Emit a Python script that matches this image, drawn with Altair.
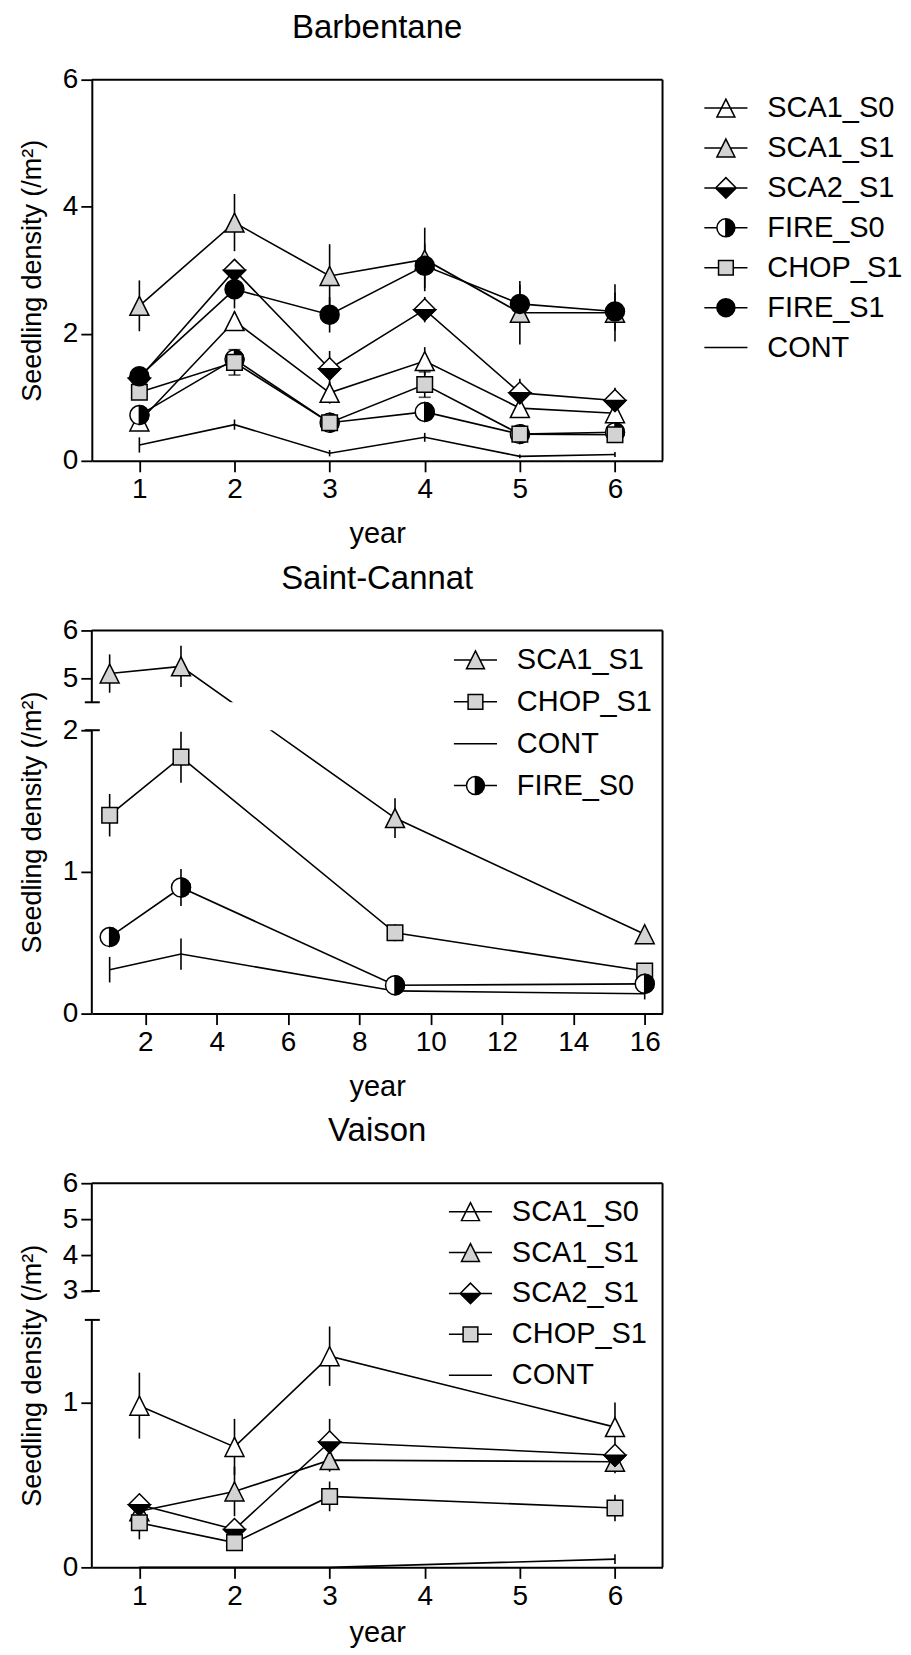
import altair as alt
import pandas as pd

FONT = "Liberation Sans"
GREY = "#d3d3d3"

# ---------------- data ----------------
# Barbentane
bar_years = [1, 2, 3, 4, 5, 6]
bar_sca1_s0 = [0.62, 2.20, 1.07, 1.57, 0.83, 0.75]
bar_sca1_s0_se = [0.08, 0.15, 0.17, 0.22, 0.10, 0.08]
bar_sca1_s1 = [2.44, 3.75, 2.91, 3.17, 2.33, 2.33]
bar_sca1_s1_se = [0.40, 0.45, 0.50, 0.50, 0.50, 0.45]
bar_sca2_s1 = [1.30, 3.00, 1.45, 2.38, 1.07, 0.95]
bar_sca2_s1_se = [0.10, 0.15, 0.28, 0.20, 0.22, 0.20]
bar_fire_s0 = [0.72, 1.60, 0.60, 0.77, 0.42, 0.45]
bar_fire_s0_se = [0.15, 0.10, 0.05, 0.10, 0.05, 0.05]
bar_chop_s1 = [1.08, 1.55, 0.60, 1.20, 0.42, 0.41]
bar_chop_s1_se = [0.10, 0.20, 0.10, 0.20, 0.08, 0.06]
bar_fire_s1 = [1.33, 2.70, 2.30, 3.07, 2.47, 2.35]
bar_fire_s1_se = [0.12, 0.30, 0.28, 0.35, 0.30, 0.30]
bar_cont = [0.25, 0.57, 0.12, 0.37, 0.07, 0.10]
bar_cont_se = [0.12, 0.08, 0.05, 0.07, 0.03, 0.04]

# Saint-Cannat
sc_years = [1, 3, 9, 16]
sc_sca1_s1 = [5.10, 5.25, 1.38, 0.56]
sc_sca1_s1_se = [0.40, 0.43, 0.14, 0.04]
sc_chop_s1 = [1.40, 1.81, 0.57, 0.30]
sc_chop_s1_se = [0.15, 0.18, 0.06, 0.03]
sc_cont = [0.31, 0.42, 0.16, 0.14]
sc_cont_se = [0.09, 0.11, 0.03, 0.04]
sc_fire_s0 = [0.54, 0.89, 0.20, 0.21]
sc_fire_s0_se = [0.06, 0.13, 0.03, 0.03]

# Vaison
va_years = [1, 2, 3, 6]
va_sca1_s0 = [0.98, 0.73, 1.28, 0.85]
va_sca1_s0_se = [0.20, 0.17, 0.18, 0.15]
va_sca1_s1 = [0.34, 0.46, 0.65, 0.64]
va_sca1_s1_se = [0.05, 0.15, 0.07, 0.07]
va_sca2_s1 = [0.38, 0.23, 0.76, 0.68]
va_sca2_s1_se = [0.05, 0.04, 0.14, 0.05]
va_chop_s1 = [0.27, 0.15, 0.43, 0.36]
va_chop_s1_se = [0.10, 0.03, 0.09, 0.08]
va_cont = [0.0, 0.0, 0.0, 0.05]
va_cont_se = [0.0, 0.0, 0.0, 0.03]

bar_order = ["SCA1_S0", "SCA1_S1", "SCA2_S1", "FIRE_S0", "CHOP_S1", "FIRE_S1", "CONT"]
sc_order = ["SCA1_S1", "CHOP_S1", "CONT", "FIRE_S0"]
va_order = ["SCA1_S0", "SCA1_S1", "SCA2_S1", "CHOP_S1", "CONT"]

# ---------------- styles ----------------
TRI = "M0,-1L1,1L-1,1Z"
CIRCLE = "M1,0A1,1 0 1,1 -1,0A1,1 0 1,1 1,0Z"
CIRCLE_R = "M0,-1A1,1 0 0,1 0,1Z"
SQUARE = "M-0.82,-0.82H0.82V0.82H-0.82Z"
DIAMOND = "M0,-1.15L1.15,0L0,1.15L-1.15,0Z"
DIAMOND_LOW = "M-1.15,0L1.15,0L0,1.15Z"

MARKERS = {
    "SCA1_S0": [(TRI, "white")],
    "SCA1_S1": [(TRI, GREY)],
    "SCA2_S1": [(DIAMOND, "white"), (DIAMOND_LOW, "black")],
    "FIRE_S0": [(CIRCLE, "white"), (CIRCLE_R, "black")],
    "CHOP_S1": [(SQUARE, GREY)],
    "FIRE_S1": [(CIRCLE, "black")],
    "CONT": [],
}

LEG_PATH = {
    "SCA1_S0": "M-2.4,0H2.4M0,-1L1,1L-1,1Z",
    "SCA1_S1": "M-2.4,0H-0.5M0.5,0H2.4M0,-1L1,1L-1,1Z",
    "SCA2_S1": "M-2.4,0H-1.15M1.15,0H2.4M-1.15,0L1.15,0L0,1.15ZM-1.15,0L0,-1.15L1.15,0L0,-1.15Z",
    "FIRE_S0": "M-2.4,0H-1M1,0H2.4M0,-1A1,1 0 0,1 0,1ZM0,-1A1,1 0 0,0 0,1A1,1 0 0,1 0,-1Z",
    "CHOP_S1": "M-2.4,0H-0.82M0.82,0H2.4M-0.82,-0.82H0.82V0.82H-0.82Z",
    "FIRE_S1": "M-2.4,0H2.4M1,0A1,1 0 1,1 -1,0A1,1 0 1,1 1,0Z",
    "CONT": "M-2.4,0H2.4",
}
LEG_FILL = {
    "SCA1_S0": "white", "SCA1_S1": GREY, "SCA2_S1": "black", "FIRE_S0": "black",
    "CHOP_S1": GREY, "FIRE_S1": "black", "CONT": "transparent",
}

W = 572
LW = 1.6


def long_df(years, series):
    rows = []
    for name, (m, se) in series.items():
        for x, v, e in zip(years, m, se):
            rows.append(dict(series=name, year=x, mean=v, lo=v - e, hi=v + e))
    return pd.DataFrame(rows)


def panel(title, df, order, x_domain, x_ticks, y_domain, y_range, y_ticks,
          height, leg_x, leg_y, row_pad, xpad, breaks=None, caps=None):
    xs = alt.Scale(domain=x_domain, nice=False, zero=False)
    if y_range is None:
        ys = alt.Scale(domain=y_domain, nice=False, zero=False)
    else:
        ys = alt.Scale(domain=y_domain, range=y_range, nice=False, zero=False)
    xaxis = alt.Axis(values=x_ticks, title="year", format="d", labelPadding=4,
                     titlePadding=xpad)
    yaxis = alt.Axis(values=y_ticks, title="Seedling density (/m²)", format="d",
                     domain=(breaks is None), labelPadding=3, titlePadding=16)

    def X(f):
        return alt.X(f, type="quantitative", scale=xs, axis=xaxis)

    def Y(f):
        return alt.Y(f, type="quantitative", scale=ys, axis=yaxis)

    base = alt.Chart(df)
    layers = []
    layers.append(base.mark_rule(color="black", strokeWidth=LW).encode(
        x=X("year"), y=Y("lo"), y2="hi"))
    if caps:
        cdf = base.transform_filter(alt.datum.series == caps)
        for f in ("lo", "hi"):
            layers.append(cdf.mark_tick(orient="horizontal", color="black", size=12,
                                        thickness=LW).encode(x=X("year"), y=Y(f)))
    layers.append(base.mark_line(color="black", strokeWidth=LW).encode(
        x=X("year"), y=Y("mean"), detail="series:N"))
    if breaks is not None:
        mask = pd.DataFrame({"b0": [breaks[0]], "b1": [breaks[1]]})
        layers.append(alt.Chart(mask).mark_rect(color="white").encode(
            x=alt.value(0), x2=alt.value(W), y=Y("b0"), y2="b1"))
    for s in order:
        for shape, fill in MARKERS[s]:
            layers.append(base.transform_filter(alt.datum.series == s).mark_point(
                shape=shape, size=361, filled=True, fill=fill, stroke="black",
                strokeWidth=1.5, opacity=1).encode(x=X("year"), y=Y("mean")))
    frame = pd.DataFrame({"x0": [x_domain[0]], "x1": [x_domain[-1]],
                          "y0": [y_domain[0]], "y1": [y_domain[-1]]})
    fch = alt.Chart(frame)
    layers.append(fch.mark_rule(color="black", strokeWidth=2).encode(
        x=X("x0"), x2="x1", y=Y("y1")))
    layers.append(fch.mark_rule(color="black", strokeWidth=2).encode(
        x=X("x1"), y=Y("y0"), y2="y1"))
    if breaks is not None:
        seg = pd.DataFrame({"x0": [x_domain[0]] * 2, "lo": [y_domain[0], breaks[1]],
                            "hi": [breaks[0], y_domain[-1]]})
        layers.append(alt.Chart(seg).mark_rule(color="black", strokeWidth=2).encode(
            x=X("x0"), y=Y("lo"), y2="hi"))
        bc = pd.DataFrame({"b": list(breaks)})
        layers.append(alt.Chart(bc).mark_rule(color="black", strokeWidth=2).encode(
            x=alt.value(-7), x2=alt.value(8), y=Y("b")))
    leg = alt.Legend(title=None, orient="none", legendX=leg_x, legendY=leg_y,
                     symbolSize=324, symbolStrokeWidth=1.5, symbolOpacity=1,
                     labelFont=FONT, labelFontSize=29, labelColor="black",
                     labelOffset=27, rowPadding=row_pad, labelLimit=400, padding=0)
    ldf = pd.DataFrame({"series": order})
    layers.append(alt.Chart(ldf).mark_point(
        size=0, filled=True, stroke="black", strokeWidth=1.5, opacity=1).encode(
        x=alt.value(0), y=alt.value(0),
        shape=alt.Shape("series:N", scale=alt.Scale(domain=order,
                        range=[LEG_PATH[s] for s in order]), legend=leg),
        fill=alt.Fill("series:N", scale=alt.Scale(domain=order,
                      range=[LEG_FILL[s] for s in order]), legend=leg),
    ))
    return alt.layer(*layers).properties(
        width=W, height=height,
        title=alt.TitleParams(title, font=FONT, fontSize=33, fontWeight="normal",
                              color="black", anchor="middle", frame="group",
                              offset=21),
    )


bar_df = long_df(bar_years, {
    "SCA1_S0": (bar_sca1_s0, bar_sca1_s0_se), "SCA1_S1": (bar_sca1_s1, bar_sca1_s1_se),
    "SCA2_S1": (bar_sca2_s1, bar_sca2_s1_se), "FIRE_S0": (bar_fire_s0, bar_fire_s0_se),
    "CHOP_S1": (bar_chop_s1, bar_chop_s1_se), "FIRE_S1": (bar_fire_s1, bar_fire_s1_se),
    "CONT": (bar_cont, bar_cont_se)})
sc_df = long_df(sc_years, {
    "SCA1_S1": (sc_sca1_s1, sc_sca1_s1_se), "CHOP_S1": (sc_chop_s1, sc_chop_s1_se),
    "CONT": (sc_cont, sc_cont_se), "FIRE_S0": (sc_fire_s0, sc_fire_s0_se)})
va_df = long_df(va_years, {
    "SCA1_S0": (va_sca1_s0, va_sca1_s0_se), "SCA1_S1": (va_sca1_s1, va_sca1_s1_se),
    "SCA2_S1": (va_sca2_s1, va_sca2_s1_se), "CHOP_S1": (va_chop_s1, va_chop_s1_se),
    "CONT": (va_cont, va_cont_se)})

p1 = panel("Barbentane", bar_df, bar_order, [0.5, 6.5], [1, 2, 3, 4, 5, 6],
           [0, 6], None, [0, 2, 4, 6], 382, 621, 14, 10, 16, caps="CHOP_S1")
p2 = panel("Saint-Cannat", sc_df, sc_order, [0.5, 16.5], [2, 4, 6, 8, 10, 12, 14, 16],
           [0, 2, 4.5, 6], [384, 100, 72, 0], [0, 1, 2, 5, 6], 384, 370, 15, 12, 16,
           breaks=(2, 4.5))
p3 = panel("Vaison", va_df, va_order, [0.5, 6.5], [1, 2, 3, 4, 5, 6],
           [0, 1.5, 3, 6], [385, 137, 108, 0], [0, 1, 3, 4, 5, 6], 385, 365, 14, 11, 8,
           breaks=(1.5, 3))

chart = alt.vconcat(p1, p2, p3, spacing=14).resolve_scale(
    shape="independent", fill="independent").resolve_legend(
    shape="independent", fill="independent").configure_view(stroke=None).configure_axis(
    labelFont=FONT, labelFontSize=28, labelColor="black", titleFont=FONT,
    titleFontSize=27, titleFontWeight="normal", titleColor="black",
    domainColor="black", domainWidth=2, tickColor="black", tickWidth=1.8,
    tickSize=11, grid=False, labelFlush=False, labelOverlap=False,
).configure_axisX(titleFontSize=29).properties(
    padding={"left": 10, "top": 2, "right": 0, "bottom": 0})

chart.save("out.html", embed_options={"renderer": "svg", "actions": False})
